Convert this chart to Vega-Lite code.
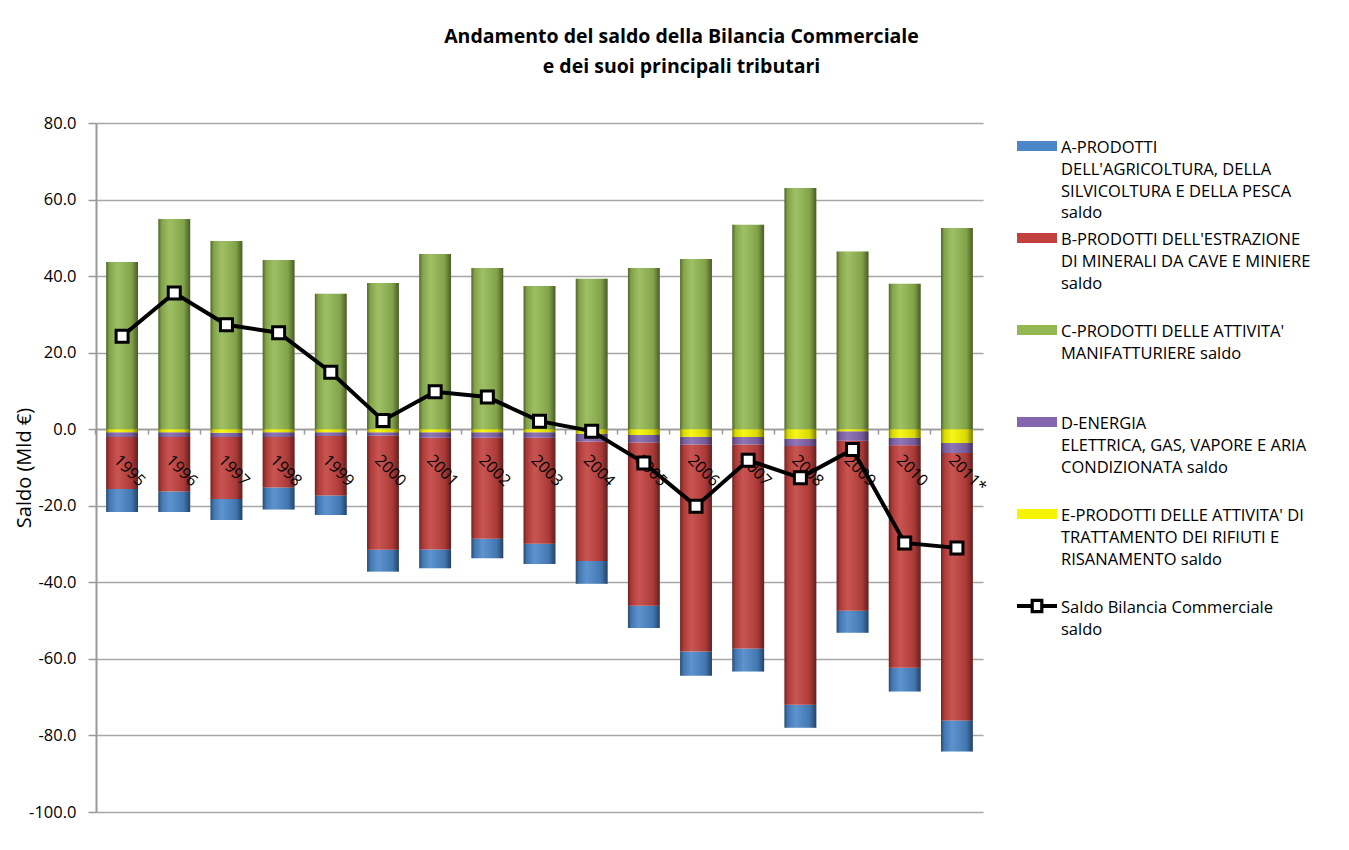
{
  "$schema": "https://vega.github.io/schema/vega-lite/v6.json",
  "autosize": {"type": "none"},
  "width": 887,
  "height": 689,
  "padding": {"left": 96, "top": 123, "right": 366, "bottom": 38},
  "background": "white",
  "config": {"font": "Open Sans", "view": {"stroke": null}},
  "title": {
    "text": ["Andamento del saldo della Bilancia Commerciale", "e dei suoi principali tributari"],
    "font": "Open Sans", "fontSize": 19.5, "fontWeight": "bold", "color": "black",
    "anchor": "middle", "dx": 142, "offset": 38, "lineHeight": 29.5
  },
  "datasets": {
    "bars": [
      {"anno": "1995", "A": -6.0, "B": -13.6, "C": 43.7, "D": -1.2, "E": -0.8},
      {"anno": "1996", "A": -5.3, "B": -14.3, "C": 54.9, "D": -1.2, "E": -0.8},
      {"anno": "1997", "A": -5.5, "B": -16.2, "C": 49.2, "D": -1.1, "E": -0.9},
      {"anno": "1998", "A": -5.8, "B": -13.2, "C": 44.2, "D": -1.2, "E": -0.8},
      {"anno": "1999", "A": -5.1, "B": -15.5, "C": 35.4, "D": -1.0, "E": -0.8},
      {"anno": "2000", "A": -5.7, "B": -29.8, "C": 38.2, "D": -0.9, "E": -0.8},
      {"anno": "2001", "A": -4.9, "B": -29.2, "C": 45.8, "D": -1.4, "E": -0.8},
      {"anno": "2002", "A": -5.1, "B": -26.4, "C": 42.1, "D": -1.4, "E": -0.8},
      {"anno": "2003", "A": -5.3, "B": -27.7, "C": 37.4, "D": -1.4, "E": -0.8},
      {"anno": "2004", "A": -6.0, "B": -31.2, "C": 39.3, "D": -2.0, "E": -1.2},
      {"anno": "2005", "A": -5.8, "B": -42.6, "C": 42.1, "D": -2.0, "E": -1.5},
      {"anno": "2006", "A": -6.3, "B": -54.1, "C": 44.5, "D": -2.0, "E": -2.0},
      {"anno": "2007", "A": -6.0, "B": -53.3, "C": 53.4, "D": -2.0, "E": -2.0},
      {"anno": "2008", "A": -6.0, "B": -67.6, "C": 63.0, "D": -1.9, "E": -2.5},
      {"anno": "2009", "A": -5.8, "B": -44.4, "C": 46.4, "D": -2.5, "E": -0.5},
      {"anno": "2010", "A": -6.2, "B": -58.1, "C": 38.0, "D": -2.0, "E": -2.2},
      {"anno": "2011*", "A": -8.1, "B": -69.9, "C": 52.6, "D": -2.6, "E": -3.6}
    ],
    "saldo": [
      {"anno": "1995", "saldo": 24.3},
      {"anno": "1996", "saldo": 35.6},
      {"anno": "1997", "saldo": 27.3},
      {"anno": "1998", "saldo": 25.2},
      {"anno": "1999", "saldo": 14.9},
      {"anno": "2000", "saldo": 2.3},
      {"anno": "2001", "saldo": 9.8},
      {"anno": "2002", "saldo": 8.4},
      {"anno": "2003", "saldo": 2.1},
      {"anno": "2004", "saldo": -0.5},
      {"anno": "2005", "saldo": -8.8},
      {"anno": "2006", "saldo": -20.1},
      {"anno": "2007", "saldo": -8.1},
      {"anno": "2008", "saldo": -12.7},
      {"anno": "2009", "saldo": -5.3},
      {"anno": "2010", "saldo": -29.7},
      {"anno": "2011*", "saldo": -31.0}
    ]
  },
  "encoding": {
    "x": {
      "field": "anno", "type": "nominal", "sort": null,
      "scale": {"paddingInner": 0.39, "paddingOuter": 0.195},
      "axis": {
        "orient": "bottom", "offset": -383, "labels": false, "title": null, "grid": false,
        "domainColor": "#999999", "domainWidth": 1.5, "tickColor": "#999999", "tickWidth": 1.5,
        "tickSize": 5, "bandPosition": -0.32, "zindex": 0
      }
    }
  },
  "layer": [
    {
      "data": {"name": "bars"},
      "transform": [{"fold": ["A", "B", "C", "D", "E"], "as": ["serie", "valore"]}],
      "mark": {"type": "bar"},
      "encoding": {
        "y": {
          "field": "valore", "type": "quantitative", "stack": "zero",
          "scale": {"domain": [-100, 80], "nice": false, "zero": false},
          "axis": {
            "title": "Saldo (Mld €)", "titleFont": "Open Sans", "titleFontSize": 20,
            "titleFontWeight": "normal", "titleColor": "black", "titlePadding": -6,
            "values": [-100, -80, -60, -40, -20, 0, 20, 40, 60, 80],
            "labelExpr": "replace(format(datum.value, '.1f'), '\u2212', '-')",
            "labelFont": "Open Sans", "labelFontSize": 16.5, "labelColor": "black", "labelPadding": 12,
            "tickSize": 8, "tickColor": "#999999", "tickWidth": 1.5,
            "domainColor": "#999999", "domainWidth": 2,
            "grid": true, "gridColor": "#A6A6A6", "gridWidth": 1.5
          }
        },
        "order": {"field": "serie", "sort": "descending"},
        "color": {
          "field": "serie", "type": "nominal",
          "scale": {
            "domain": ["A", "B", "C", "D", "E", "S"],
            "range": ["#4A86C8", "#C2413E", "#93B852", "#8466AE", "#F5F500", "#000000"]
          },
          "legend": {
            "orient": "none", "legendX": 931, "legendY": 7, "title": null,
            "labelFont": "Open Sans", "labelFontSize": 16.5, "labelColor": "black", "labelLimit": 400,
            "labelOffset": 14, "labelBaseline": "top", "rowPadding": 0,
            "symbolSize": 400, "symbolStrokeWidth": 0,
            "symbolType": "M-2,0.1H2V1.1H-2Z",
            "labelExpr": "datum.value == 'A' ? ['A-PRODOTTI', \"DELL'AGRICOLTURA, DELLA\", 'SILVICOLTURA  E DELLA PESCA', 'saldo'] : datum.value == 'B' ? [\"B-PRODOTTI DELL'ESTRAZIONE\", 'DI MINERALI DA CAVE E MINIERE', 'saldo', ' '] : datum.value == 'C' ? [\"C-PRODOTTI DELLE ATTIVITA'\", 'MANIFATTURIERE  saldo', ' ', ' '] : datum.value == 'D' ? ['D-ENERGIA', 'ELETTRICA, GAS, VAPORE E ARIA', 'CONDIZIONATA  saldo', ' '] : datum.value == 'E' ? [\"E-PRODOTTI DELLE ATTIVITA'  DI\", 'TRATTAMENTO  DEI RIFIUTI  E', 'RISANAMENTO  saldo', ' '] : ['Saldo Bilancia Commerciale', 'saldo', ' ', ' ']",
            "encode": {
              "labels": {"update": {"lineHeight": {"value": 21.8}}},
              "symbols": {"update": {"shape": {"signal": "datum.value == 'S' ? 'M-2,0.4H-0.64V0.8H-2Z M0.64,0.4H2V0.8H0.64Z M-0.64,-0.12H0.64V1.32H-0.64Z M-0.32,0.2V1H0.32V0.2Z' : 'M-2,0.1H2V1.1H-2Z'"}}}
            }
          }
        }
      }
    },
    {
      "data": {"name": "bars"},
      "transform": [{"fold": ["A", "B", "C", "D", "E"], "as": ["serie", "valore"]}],
      "mark": {
        "type": "bar",
        "fill": {
          "gradient": "linear", "x1": 0, "y1": 0, "x2": 1, "y2": 0,
          "stops": [
            {"offset": 0, "color": "rgba(0,0,0,0.45)"},
            {"offset": 0.1, "color": "rgba(0,0,0,0.12)"},
            {"offset": 0.35, "color": "rgba(255,255,255,0.1)"},
            {"offset": 0.8, "color": "rgba(0,0,0,0.12)"},
            {"offset": 1, "color": "rgba(0,0,0,0.5)"}
          ]
        }
      },
      "encoding": {
        "y": {"field": "valore", "type": "quantitative", "stack": "zero"},
        "detail": {"field": "serie"},
        "order": {"field": "serie", "sort": "descending"}
      }
    },
    {
      "data": {"name": "saldo"},
      "mark": {"type": "text", "angle": 45, "align": "left", "baseline": "top", "font": "Open Sans", "fontSize": 16, "dy": 4, "xOffset": 3, "yOffset": 20, "color": "black"},
      "encoding": {
        "y": {"datum": 0, "type": "quantitative"},
        "text": {"field": "anno"}
      }
    },
    {
      "data": {"name": "saldo"},
      "mark": {"type": "line", "strokeWidth": 4},
      "encoding": {
        "y": {"field": "saldo", "type": "quantitative"},
        "color": {"datum": "S"}
      }
    },
    {
      "data": {"name": "saldo"},
      "mark": {"type": "point", "shape": "square", "size": 144, "filled": true, "fill": "white", "stroke": "black", "strokeWidth": 3, "opacity": 1},
      "encoding": {
        "y": {"field": "saldo", "type": "quantitative"}
      }
    }
  ]
}
